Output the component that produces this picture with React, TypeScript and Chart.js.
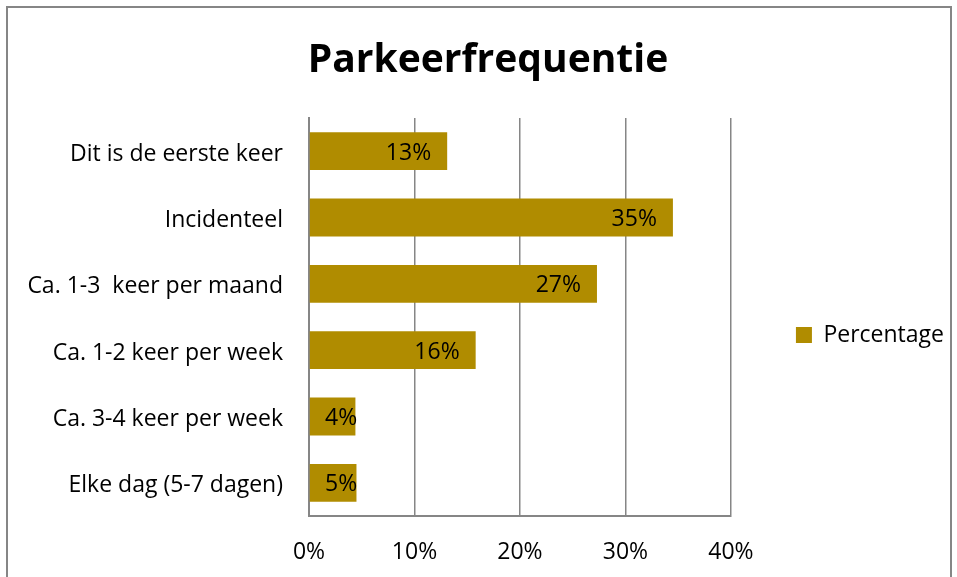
import React, { useEffect, useRef } from "react";
import { Chart, registerables } from "chart.js";

Chart.register(...registerables);

const categories = [
  "Dit is de eerste keer",
  "Incidenteel",
  "Ca. 1-3  keer per maand",
  "Ca. 1-2 keer per week",
  "Ca. 3-4 keer per week",
  "Elke dag (5-7 dagen)",
];
const percentages = [13.1, 34.5, 27.3, 15.8, 4.4, 4.5];
const xTicks = [0, 10, 20, 30, 40];
const seriesName = "Percentage";
const title = "Parkeerfrequentie";

const FONT = "'Open Sans', sans-serif";
const BAR = "#B08C00";
const GRID = "#868686";
const FS = 23;

const frame = {
  id: "frame",
  afterDraw(chart: any) {
    const ctx = chart.ctx;
    ctx.save();
    ctx.strokeStyle = GRID;
    ctx.lineWidth = 2;
    ctx.strokeRect(7, 7, 944, 620);
    ctx.restore();
  },
};

const barLabels = {
  id: "barLabels",
  afterDatasetsDraw(chart: any) {
    const ctx = chart.ctx;
    const meta = chart.getDatasetMeta(0);
    const base = chart.scales.x.getPixelForValue(0);
    ctx.save();
    ctx.font = `${FS}px ${FONT}`;
    ctx.fillStyle = "#000";
    ctx.textAlign = "right";
    ctx.textBaseline = "middle";
    meta.data.forEach((el: any, i: number) => {
      const v = chart.data.datasets[0].data[i] as number;
      const txt = Math.round(v) + "%";
      const w = ctx.measureText(txt).width;
      const right = Math.max(el.x - 16, base + 16 + w);
      ctx.fillText(txt, right, el.y + 2);
    });
    ctx.restore();
  },
};

export default function App() {
  const ref = useRef<HTMLCanvasElement | null>(null);
  useEffect(() => {
    if (!ref.current) return;
    const chart = new Chart(ref.current, {
      type: "bar",
      data: {
        labels: categories,
        datasets: [
          {
            label: seriesName,
            data: percentages,
            backgroundColor: BAR,
            borderWidth: 0,
            barPercentage: 0.57,
            categoryPercentage: 1,
          },
        ],
      },
      options: {
        indexAxis: "y",
        responsive: false,
        animation: false,
        layout: { padding: { left: 22, right: 3, top: 0, bottom: 10 } },
        plugins: {
          title: {
            display: true,
            text: title,
            color: "#000",
            font: { family: FONT, size: 39, weight: "bold" },
            padding: { top: 37, bottom: 34.2 },
          },
          legend: {
            display: true,
            position: "right",
            title: {
              display: true,
              text: " ",
              font: { family: FONT, size: 10 },
              padding: { top: 91, bottom: 0 },
            },
            labels: {
              boxWidth: 16,
              boxHeight: 16,
              padding: 65,
              color: "#000",
              font: { family: FONT, size: FS },
            },
          },
          tooltip: { enabled: false },
        },
        scales: {
          x: {
            min: 0,
            max: 40,
            afterBuildTicks(scale: any) {
              scale.ticks = xTicks.map((v) => ({ value: v }));
            },
            afterFit(scale: any) {
              scale.height = 51;
            },
            ticks: {
              callback: (v: any) => v + "%",
              color: "#000",
              font: { family: FONT, size: FS },
              padding: 23,
              maxRotation: 0,
            },
            grid: { color: GRID, lineWidth: 1.5, drawTicks: false },
            border: { color: GRID, width: 2 },
          },
          y: {
            afterFit(scale: any) {
              scale.width = 287;
            },
            ticks: {
              color: "#000",
              font: { family: FONT, size: FS },
              padding: 26,
              labelOffset: 3,
            },
            grid: { display: false, drawTicks: false },
            border: { color: GRID, width: 2 },
          },
        },
      },
      plugins: [frame, barLabels],
    });
    return () => chart.destroy();
  }, []);
  return (
    <div style={{ position: "fixed", left: 0, top: 0, width: 957, height: 577, background: "#fff" }}>
      <canvas ref={ref} width={957} height={577} style={{ display: "block" }} />
    </div>
  );
}
